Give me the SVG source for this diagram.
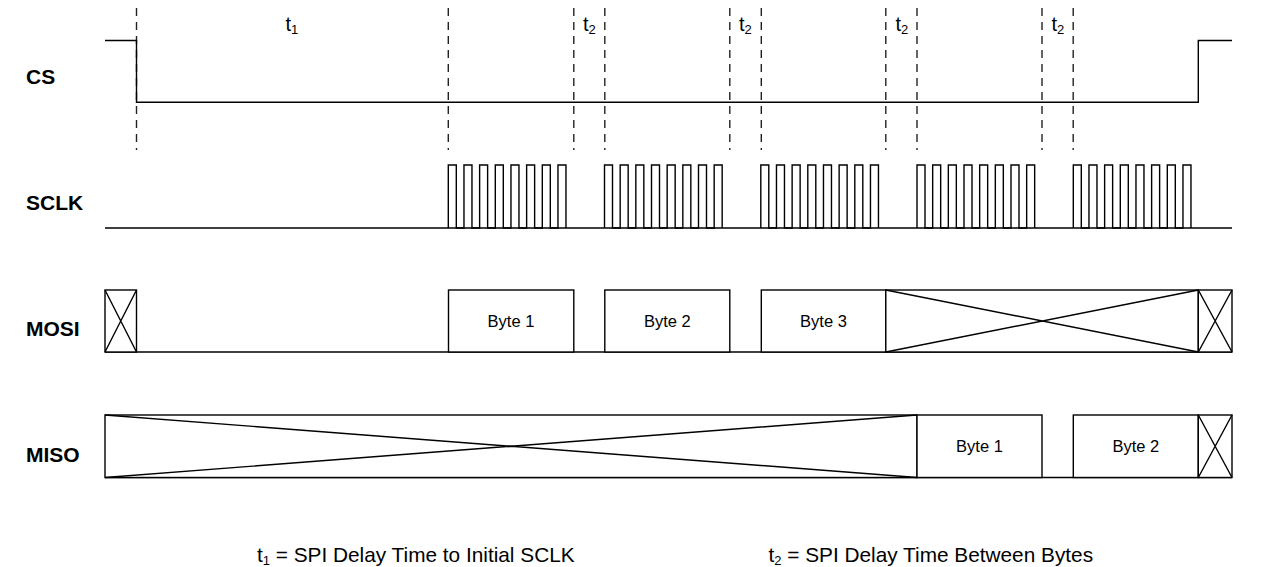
<svg xmlns="http://www.w3.org/2000/svg" xmlns:xlink="http://www.w3.org/1999/xlink" width="1263" height="567" viewBox="0 0 1263 567">
<style>
  .sig{fill:none;stroke:#000;stroke-width:1.4}
  .box{fill:#fff;stroke:#000;stroke-width:1.4}
  .dash{fill:none;stroke:#222;stroke-width:1.4;stroke-dasharray:8,6}
  .lbl{font-family:"Liberation Sans",Arial,sans-serif;font-weight:bold;font-size:21px;fill:#000}
  .byte{font-family:"Liberation Sans",Arial,sans-serif;font-size:16.5px;fill:#000;text-anchor:middle}
  .t{font-family:"Liberation Sans",Arial,sans-serif;font-size:20px;fill:#000}
  .leg{font-family:"Liberation Sans",Arial,sans-serif;font-size:20.8px;fill:#000}
</style>
<defs>
  <path id="burst" class="sig" d="M0,228 V165 H8 V228 H15.67 V165 H23.67 V228 H31.33 V165 H39.33 V228 H47 V165 H55 V228 H62.67 V165 H70.67 V228 H78.33 V165 H86.33 V228 H94 V165 H102 V228 H109.67 V165 H117.67 V228"/>
</defs>
<rect width="1263" height="567" fill="#fff"/>

<g id="labels">
  <text class="lbl" x="26" y="84">CS</text>
  <text class="lbl" x="26" y="210">SCLK</text>
  <text class="lbl" x="26" y="336">MOSI</text>
  <text class="lbl" x="26" y="462">MISO</text>
</g>

<g id="connectors">
  <g id="dashed">
    <line class="dash" x1="136.5" y1="8" x2="136.5" y2="150"/>
    <line class="dash" x1="448.3" y1="8" x2="448.3" y2="150"/>
    <line class="dash" x1="573.8" y1="8" x2="573.8" y2="150"/>
    <line class="dash" x1="604.8" y1="8" x2="604.8" y2="150"/>
    <line class="dash" x1="729.8" y1="8" x2="729.8" y2="150"/>
    <line class="dash" x1="761.3" y1="8" x2="761.3" y2="150"/>
    <line class="dash" x1="885.8" y1="8" x2="885.8" y2="150"/>
    <line class="dash" x1="917" y1="8" x2="917" y2="150"/>
    <line class="dash" x1="1042" y1="8" x2="1042" y2="150"/>
    <line class="dash" x1="1073.2" y1="8" x2="1073.2" y2="150"/>
  </g>
  <g id="cs-wave">
    <path class="sig" d="M105,40.5 H136.5 V102.3 H1198.3 V40.5 H1232"/>
  </g>
  <g id="sclk-wave">
    <line class="sig" x1="105" y1="228" x2="1232" y2="228"/>
    <use href="#burst" x="448.3"/>
    <use href="#burst" x="604.5"/>
    <use href="#burst" x="760.8"/>
    <use href="#burst" x="917"/>
    <use href="#burst" x="1073.3"/>
  </g>
</g>

<g id="timing-labels">
  <text class="t" x="285.5" y="31">t<tspan font-size="13" dy="3">1</tspan></text>
  <text class="t" x="583" y="31">t<tspan font-size="13" dy="3">2</tspan></text>
  <text class="t" x="739" y="31">t<tspan font-size="13" dy="3">2</tspan></text>
  <text class="t" x="895.5" y="31">t<tspan font-size="13" dy="3">2</tspan></text>
  <text class="t" x="1051.5" y="31">t<tspan font-size="13" dy="3">2</tspan></text>
</g>

<g id="mosi">
  <line class="sig" x1="105" y1="352" x2="1232" y2="352"/>
  <g id="mosi-x0">
    <rect class="box" x="105" y="290" width="31.5" height="62"/>
    <path class="sig" d="M105,290 L136.5,352 M136.5,290 L105,352"/>
  </g>
  <g id="mosi-byte1">
    <rect class="box" x="448.5" y="290" width="125.3" height="62"/>
    <text class="byte" x="511" y="327">Byte 1</text>
  </g>
  <g id="mosi-byte2">
    <rect class="box" x="604.8" y="290" width="125" height="62"/>
    <text class="byte" x="667.3" y="327">Byte 2</text>
  </g>
  <g id="mosi-byte3">
    <rect class="box" x="761.3" y="290" width="124.5" height="62"/>
    <text class="byte" x="823.5" y="327">Byte 3</text>
  </g>
  <g id="mosi-x1">
    <rect class="box" x="885.8" y="290" width="312.5" height="62"/>
    <path class="sig" d="M885.8,290 L1198.3,352 M1198.3,290 L885.8,352"/>
  </g>
  <g id="mosi-x2">
    <rect class="box" x="1198.3" y="290" width="33.7" height="62"/>
    <path class="sig" d="M1198.3,290 L1232,352 M1232,290 L1198.3,352"/>
  </g>
</g>

<g id="miso">
  <line class="sig" x1="105" y1="477.5" x2="1232" y2="477.5"/>
  <g id="miso-x0">
    <rect class="box" x="105" y="415" width="812" height="62.5"/>
    <path class="sig" d="M105,415 L917,477.5 M917,415 L105,477.5"/>
  </g>
  <g id="miso-byte1">
    <rect class="box" x="917" y="415" width="125" height="62.5"/>
    <text class="byte" x="979.5" y="452">Byte 1</text>
  </g>
  <g id="miso-byte2">
    <rect class="box" x="1073.3" y="415" width="125" height="62.5"/>
    <text class="byte" x="1135.8" y="452">Byte 2</text>
  </g>
  <g id="miso-x1">
    <rect class="box" x="1198.3" y="415" width="33.7" height="62.5"/>
    <path class="sig" d="M1198.3,415 L1232,477.5 M1232,415 L1198.3,477.5"/>
  </g>
</g>

<g id="legend">
  <text class="leg" x="257" y="562">t<tspan font-size="13" dy="3">1</tspan><tspan dy="-3"> = SPI Delay Time to Initial SCLK</tspan></text>
  <text class="leg" x="768.5" y="562">t<tspan font-size="13" dy="3">2</tspan><tspan dy="-3"> = SPI Delay Time Between Bytes</tspan></text>
</g>
</svg>
